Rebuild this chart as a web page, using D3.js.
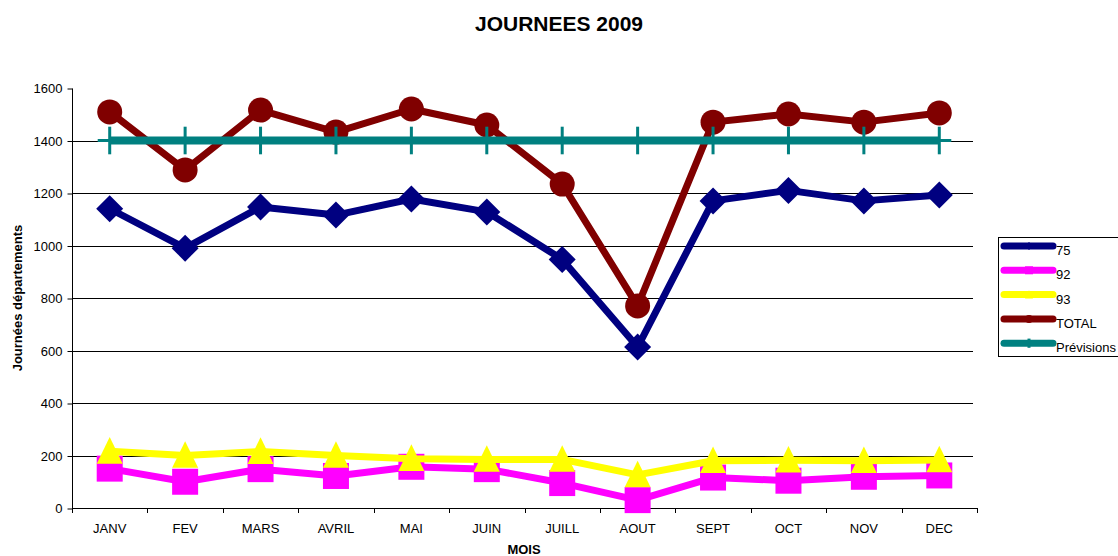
<!DOCTYPE html>
<html>
<head>
<meta charset="utf-8">
<title>JOURNEES 2009</title>
<script src="https://d3js.org/d3.v7.min.js"></script>
<style>
  body { margin: 0; background: #fff; }
  text { font-family: "Liberation Sans", Arial, sans-serif; }
</style>
</head>
<body>
<div id="chart"></div>
<script>
// months on the X axis
var months = ["JANV", "FEV", "MARS", "AVRIL", "MAI", "JUIN", "JUILL", "AOUT", "SEPT", "OCT", "NOV", "DEC"];

// values
var dep75 = [1140, 990, 1147, 1116, 1177, 1128, 947, 613, 1170, 1210, 1170, 1192];
var dep92 = [150, 100, 148, 122, 157, 148, 95, 30, 116, 104, 119, 124];
var dep93 = [216, 200, 215, 200, 188, 185, 185, 126, 180, 182, 180, 183];
var total = [1509, 1288, 1516, 1432, 1520, 1459, 1234, 770, 1470, 1501, 1470, 1505];
var previsions = [1400, 1400, 1400, 1400, 1400, 1400, 1400, 1400, 1400, 1400, 1400, 1400];

var yTicks = [0, 200, 400, 600, 800, 1000, 1200, 1400, 1600];

var series = [
  {name: "75", values: dep75, color: "#000080", marker: "diamond"},
  {name: "92", values: dep92, color: "#FF00FF", marker: "square"},
  {name: "93", values: dep93, color: "#FFFF00", marker: "triangle"},
  {name: "TOTAL", values: total, color: "#800000", marker: "circle"},
  {name: "Prévisions", values: previsions, color: "#008080", marker: "plus"}
];

var W = 1118, H = 556;
var plot = {left: 72, right: 977, top: 88, bottom: 508};

var svg = d3.select("#chart").append("svg")
  .attr("width", W).attr("height", H);

var x = d3.scaleBand().domain(months).range([plot.left, plot.right]).padding(0);
var y = d3.scaleLinear().domain([0, 1600]).range([plot.bottom, plot.top]);
var cx = function(m) { return x(m) + x.bandwidth() / 2; };

// title
svg.append("text")
  .attr("x", 559).attr("y", 31)
  .attr("text-anchor", "middle")
  .style("font-size", "21px").style("font-weight", "bold")
  .text("JOURNEES 2009");

// gridlines
svg.append("g").selectAll("line")
  .data(yTicks.filter(function(d) { return d > 0 && d < 1600; }))
  .enter().append("line")
    .attr("x1", plot.left).attr("x2", 973)
    .attr("y1", function(d) { return Math.round(y(d)) + 0.5; })
    .attr("y2", function(d) { return Math.round(y(d)) + 0.5; })
    .attr("stroke", "#000").attr("stroke-width", 1);

// Y axis
var yAxis = svg.append("g")
  .attr("transform", "translate(" + (plot.left + 0.5) + ",0.5)")
  .call(d3.axisLeft(y).tickValues(yTicks).tickFormat(d3.format("d")).tickSize(5).tickPadding(5));
yAxis.select(".domain").attr("d", "M0," + plot.top + "V" + plot.bottom).attr("stroke", "#000");
yAxis.selectAll(".tick line").attr("stroke", "#000");
yAxis.selectAll("text").style("font-size", "13px").style("fill", "#000")
  .style("font-family", "Liberation Sans, Arial, sans-serif");

// X axis
svg.append("line")
  .attr("x1", plot.left).attr("x2", plot.right)
  .attr("y1", plot.bottom + 0.5).attr("y2", plot.bottom + 0.5)
  .attr("stroke", "#000");
var xBounds = months.map(function(m) { return x(m); }).concat([plot.right]);
svg.append("g").selectAll("line")
  .data(xBounds).enter().append("line")
    .attr("x1", function(d) { return Math.round(d) + 0.5; })
    .attr("x2", function(d) { return Math.round(d) + 0.5; })
    .attr("y1", plot.bottom).attr("y2", plot.bottom + 5)
    .attr("stroke", "#000");
svg.append("g").selectAll("text")
  .data(months).enter().append("text")
    .attr("x", function(d) { return cx(d); })
    .attr("y", 533)
    .attr("text-anchor", "middle")
    .style("font-size", "13px")
    .text(function(d) { return d; });

// axis titles
svg.append("text")
  .attr("x", 524).attr("y", 554)
  .attr("text-anchor", "middle")
  .style("font-size", "13px").style("font-weight", "bold")
  .text("MOIS");
svg.append("text")
  .attr("transform", "translate(22,298) rotate(-90)")
  .attr("text-anchor", "middle")
  .style("font-size", "13px").style("font-weight", "bold")
  .text("Journées départements");

// markers
function drawMarker(g, type, px, py, color, s) {
  if (type === "diamond") {
    g.append("path")
      .attr("d", "M" + px + "," + (py - s) + "L" + (px + s) + "," + py + "L" + px + "," + (py + s) + "L" + (px - s) + "," + py + "Z")
      .attr("fill", color);
  } else if (type === "square") {
    g.append("rect")
      .attr("x", px - s).attr("y", py - s)
      .attr("width", 2 * s).attr("height", 2 * s)
      .attr("fill", color);
  } else if (type === "triangle") {
    g.append("path")
      .attr("d", "M" + px + "," + (py - s * 1.1) + "L" + (px + s) + "," + (py + s * 0.95) + "L" + (px - s) + "," + (py + s * 0.95) + "Z")
      .attr("fill", color);
  } else if (type === "circle") {
    g.append("circle").attr("cx", px).attr("cy", py).attr("r", s).attr("fill", color);
  } else if (type === "plus") {
    g.append("rect").attr("x", px - s).attr("y", py - 1.5).attr("width", 2 * s).attr("height", 3).attr("fill", color);
    g.append("rect").attr("x", px - 1.5).attr("y", py - s * 1.15).attr("width", 3).attr("height", 2.3 * s).attr("fill", color);
  }
}

var markerSize = {diamond: 13.5, square: 13, triangle: 13, circle: 12.5, plus: 12};
var lineWidth = {"75": 7, "92": 7, "93": 7, "TOTAL": 7, "Prévisions": 8};

var line = d3.line()
  .x(function(d, i) { return cx(months[i]); })
  .y(function(d) { return y(d); });

series.forEach(function(s) {
  var g = svg.append("g");
  g.append("path")
    .datum(s.values)
    .attr("d", line)
    .attr("fill", "none")
    .attr("stroke", s.color)
    .attr("stroke-width", lineWidth[s.name])
    .attr("stroke-linejoin", "round");
  s.values.forEach(function(v, i) {
    drawMarker(g, s.marker, cx(months[i]), y(v), s.color, markerSize[s.marker]);
  });
});

// legend
var legend = svg.append("g");
legend.append("rect")
  .attr("x", 998.5).attr("y", 237.5)
  .attr("width", 130).attr("height", 119)
  .attr("fill", "#fff").attr("stroke", "#000");
series.forEach(function(s, i) {
  var ly = 246 + i * 24.3;
  legend.append("line")
    .attr("x1", 1004).attr("x2", 1053)
    .attr("y1", ly).attr("y2", ly)
    .attr("stroke", s.color).attr("stroke-width", 7)
    .attr("stroke-linecap", "round");
  drawMarker(legend, s.marker, 1029, ly, s.color, 4);
  legend.append("text")
    .attr("x", 1056).attr("y", ly + 9)
    .style("font-size", "13px")
    .text(s.name);
});
</script>
</body>
</html>
